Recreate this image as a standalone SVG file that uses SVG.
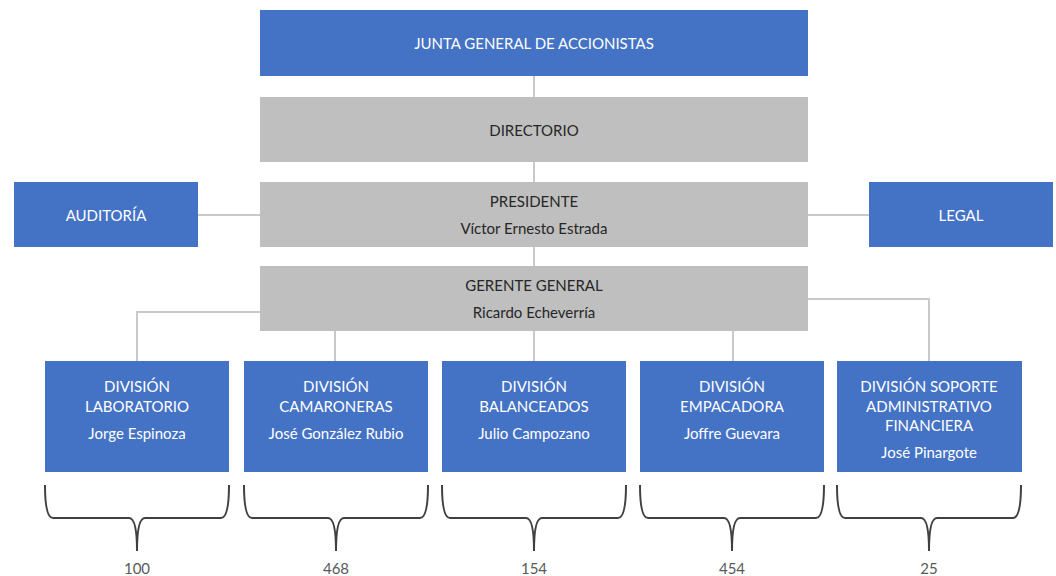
<svg xmlns="http://www.w3.org/2000/svg" width="1056" height="576" viewBox="0 0 1056 576">
<style>
.b{fill:#4472C4}
.g{fill:#BFBFBF}
text{font-family:Lato,"Open Sans","Liberation Sans",sans-serif;font-size:15px;text-anchor:middle;dominant-baseline:central}
.w{fill:#FFFFFF}
.k{fill:#262626}
.n{fill:#595959}
.c{fill:none;stroke:#C9C9C9;stroke-width:2}
.br{fill:none;stroke:#404040;stroke-width:2}
</style>
<rect width="1056" height="576" fill="#FFFFFF"/>
<g id="connectors">
<path class="c" d="M534 76V266"/>
<path class="c" d="M198 215H260"/>
<path class="c" d="M808 215H869"/>
<path class="c" d="M260 312H137V361"/>
<path class="c" d="M335 331V361"/>
<path class="c" d="M534 331V361"/>
<path class="c" d="M733 331V361"/>
<path class="c" d="M808 299H929V361"/>
</g>
<g id="junta"><rect class="b" x="260" y="10" width="548" height="66"/><text class="w" x="534" y="43">JUNTA GENERAL DE ACCIONISTAS</text></g>
<g id="directorio"><rect class="g" x="260" y="97" width="548" height="65"/><text class="k" x="534" y="130">DIRECTORIO</text></g>
<g id="presidente"><rect class="g" x="260" y="182" width="548" height="65"/><text class="k" x="534" y="201">PRESIDENTE</text><text class="k" x="534" y="228">Víctor Ernesto Estrada</text></g>
<g id="auditoria"><rect class="b" x="14" y="182" width="184" height="65"/><text class="w" x="106" y="215">AUDITORÍA</text></g>
<g id="legal"><rect class="b" x="869" y="182" width="184" height="65"/><text class="w" x="961" y="215">LEGAL</text></g>
<g id="gerente"><rect class="g" x="260" y="266" width="548" height="65"/><text class="k" x="534" y="285">GERENTE GENERAL</text><text class="k" x="534" y="312">Ricardo Echeverría</text></g>
<g id="laboratorio"><rect class="b" x="45" y="361" width="184" height="111"/><text class="w" x="137" y="386">DIVISIÓN</text><text class="w" x="137" y="406">LABORATORIO</text><text class="w" x="137" y="433">Jorge Espinoza</text></g>
<g id="camaroneras"><rect class="b" x="244" y="361" width="184" height="111"/><text class="w" x="336" y="386">DIVISIÓN</text><text class="w" x="336" y="406">CAMARONERAS</text><text class="w" x="336" y="433">José González Rubio</text></g>
<g id="balanceados"><rect class="b" x="442" y="361" width="184" height="111"/><text class="w" x="534" y="386">DIVISIÓN</text><text class="w" x="534" y="406">BALANCEADOS</text><text class="w" x="534" y="433">Julio Campozano</text></g>
<g id="empacadora"><rect class="b" x="640" y="361" width="184" height="111"/><text class="w" x="732" y="386">DIVISIÓN</text><text class="w" x="732" y="406">EMPACADORA</text><text class="w" x="732" y="433">Joffre Guevara</text></g>
<g id="soporte"><rect class="b" x="837" y="361" width="185" height="111"/><text class="w" x="929" y="386">DIVISIÓN SOPORTE</text><text class="w" x="929" y="406">ADMINISTRATIVO</text><text class="w" x="929" y="425">FINANCIERA</text><text class="w" x="929" y="452">José Pinargote</text></g>
<g id="braces">
<path class="br" d="M45 485Q45 518 53 518H129Q137 518 137 551Q137 518 145 518H221Q229 518 229 485"/>
<path class="br" d="M244 485Q244 518 252 518H328Q336 518 336 551Q336 518 344 518H420Q428 518 428 485"/>
<path class="br" d="M442 485Q442 518 450 518H526Q534 518 534 551Q534 518 542 518H618Q626 518 626 485"/>
<path class="br" d="M640 485Q640 518 648 518H724Q732 518 732 551Q732 518 740 518H816Q824 518 824 485"/>
<path class="br" d="M837 485Q837 518 845 518H921Q929 518 929 551Q929 518 937 518H1013Q1021 518 1021 485"/>
</g>
<g id="counts">
<text class="n" x="137" y="568">100</text>
<text class="n" x="336" y="568">468</text>
<text class="n" x="534" y="568">154</text>
<text class="n" x="732" y="568">454</text>
<text class="n" x="929" y="568">25</text>
</g>
</svg>
